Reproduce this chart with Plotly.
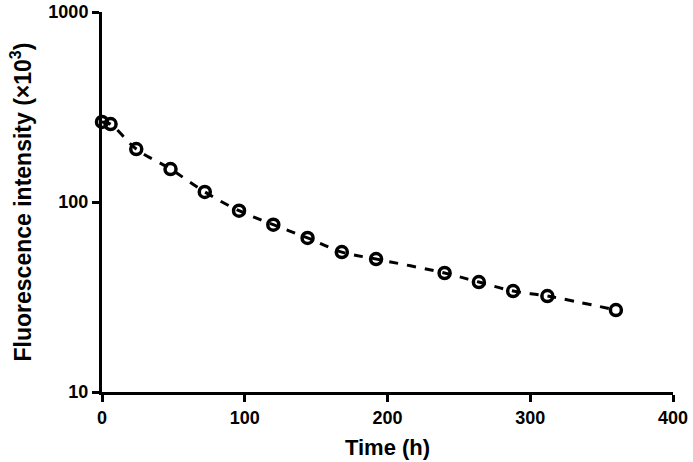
import plotly.graph_objects as go

time_h = [0, 6, 24, 48, 72, 96, 120, 144, 168, 192, 240, 264, 288, 312, 360]
intensity = [264, 257, 190, 149, 113, 90, 76, 64.7, 54.5, 50.1, 42.3, 37.9, 34.0, 32.0, 27.0]
x_ticks = [0, 100, 200, 300, 400]
y_ticks = [10, 100, 1000]

fig = go.Figure()
fig.add_trace(go.Scatter(
    x=time_h, y=intensity, mode="lines+markers",
    line=dict(color="black", width=3, dash="dash", shape="spline"),
    marker=dict(symbol="circle-open", size=11, color="black", line=dict(width=3.5, color="black")),
    cliponaxis=False, showlegend=False,
))

font_family = "Liberation Sans, Arial, sans-serif"
fig.update_layout(
    width=693, height=462,
    margin=dict(l=102, r=20, t=12, b=70, autoexpand=False),
    plot_bgcolor="white", paper_bgcolor="white",
    font=dict(family=font_family, color="black"),
)
fig.update_xaxes(
    range=[0, 400], tickvals=x_ticks, ticktext=[f"<b>{v}</b>" for v in x_ticks],
    showgrid=False, zeroline=False, showline=True, linecolor="black", linewidth=3,
    ticks="outside", ticklen=7, tickwidth=3, tickcolor="black",
    tickfont=dict(size=18), automargin=False, ticklabeloverflow="allow",
    title=dict(text="<b>Time (h)</b>", font=dict(size=22), standoff=14),
)
fig.update_yaxes(
    type="log", range=[1, 3], tickvals=y_ticks, ticktext=[f"<b>{v}</b>" for v in y_ticks],
    showgrid=False, zeroline=False, showline=True, linecolor="black", linewidth=3,
    ticks="outside", ticklen=7, tickwidth=3, tickcolor="black",
    tickfont=dict(size=18), automargin=False, ticklabeloverflow="allow",
    title=dict(text="<b>Fluorescence intensity (×10<sup>3</sup>)</b>", font=dict(size=23), standoff=11),
)
fig.write_html(
    "out.html",
    config={"displayModeBar": False},
    post_script="document.body.style.margin='0';document.body.style.overflow='hidden';",
)
